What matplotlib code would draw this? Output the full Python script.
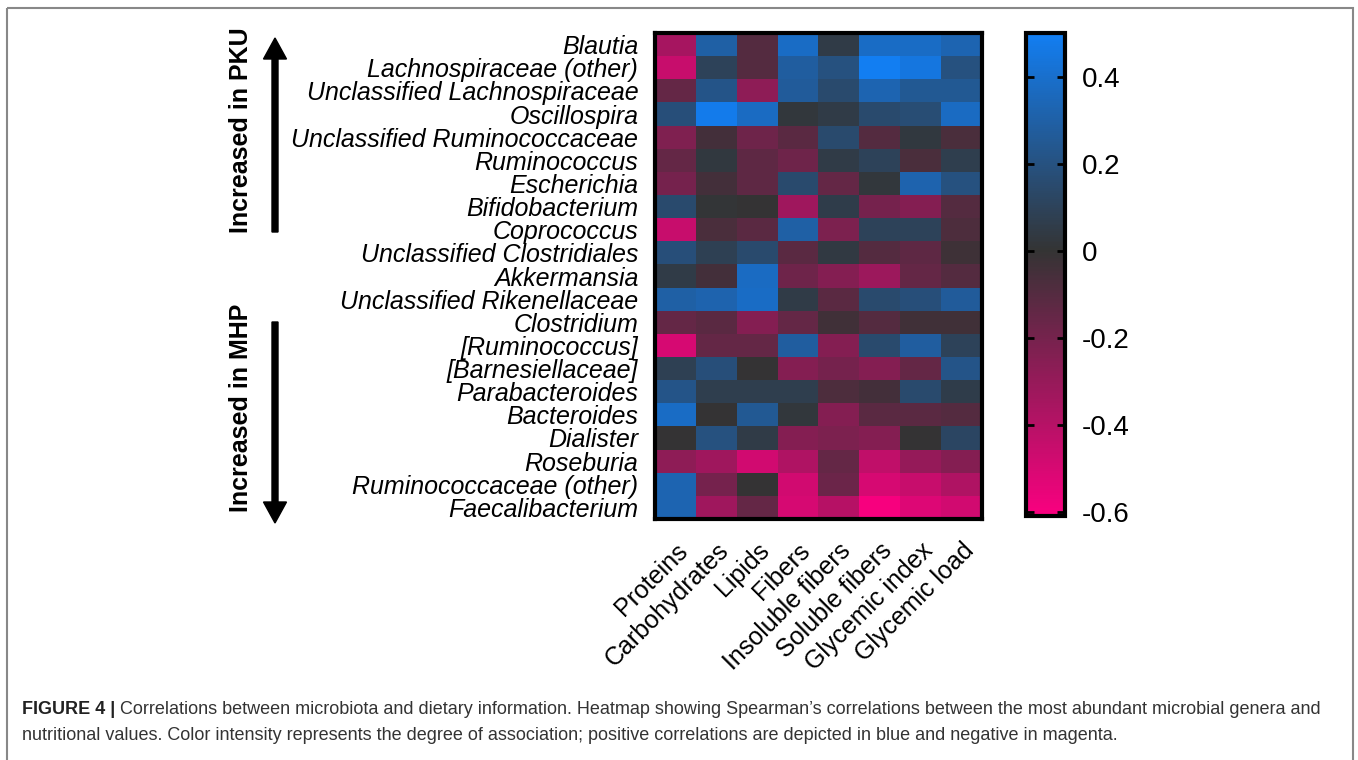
import matplotlib
matplotlib.use("Agg")
import matplotlib.pyplot as plt
import numpy as np
from matplotlib.colors import LinearSegmentedColormap
from matplotlib.patches import FancyArrow, Rectangle

genera = ["Blautia", "Lachnospiraceae (other)", "Unclassified Lachnospiraceae",
          "Oscillospira", "Unclassified Ruminococcaceae", "Ruminococcus",
          "Escherichia", "Bifidobacterium", "Coprococcus",
          "Unclassified Clostridiales", "Akkermansia", "Unclassified Rikenellaceae",
          "Clostridium", "[Ruminococcus]", "[Barnesiellaceae]", "Parabacteroides",
          "Bacteroides", "Dialister", "Roseburia", "Ruminococcaceae (other)",
          "Faecalibacterium"]
nutrients = ["Proteins", "Carbohydrates", "Lipids", "Fibers", "Insoluble fibers",
             "Soluble fibers", "Glycemic index", "Glycemic load"]

# Spearman rho, rows = genera, cols = nutrients
rho = np.array([
    [-0.35, 0.30, -0.10, 0.38, 0.05, 0.38, 0.38, 0.33],
    [-0.45, 0.10, -0.10, 0.28, 0.20, 0.50, 0.45, 0.20],
    [-0.15, 0.22, -0.28, 0.27, 0.15, 0.33, 0.25, 0.25],
    [0.18, 0.48, 0.37, 0.02, 0.05, 0.15, 0.17, 0.37],
    [-0.23, -0.05, -0.18, -0.12, 0.15, -0.10, 0.03, -0.07],
    [-0.15, 0.03, -0.13, -0.18, 0.05, 0.10, -0.07, 0.07],
    [-0.20, -0.05, -0.13, 0.15, -0.15, 0.02, 0.32, 0.20],
    [0.15, 0.01, 0.00, -0.33, 0.06, -0.20, -0.25, -0.10],
    [-0.45, -0.07, -0.12, 0.30, -0.22, 0.10, 0.10, -0.08],
    [0.18, 0.08, 0.15, -0.12, 0.04, -0.10, -0.13, -0.03],
    [0.05, -0.05, 0.37, -0.18, -0.25, -0.32, -0.15, -0.10],
    [0.30, 0.32, 0.38, 0.05, -0.12, 0.15, 0.18, 0.27],
    [-0.15, -0.12, -0.25, -0.15, -0.04, -0.10, -0.04, -0.04],
    [-0.50, -0.15, -0.15, 0.28, -0.25, 0.15, 0.28, 0.10],
    [0.08, 0.18, 0.00, -0.25, -0.20, -0.25, -0.15, 0.22],
    [0.22, 0.07, 0.07, 0.07, -0.08, -0.05, 0.15, 0.06],
    [0.38, 0.00, 0.25, 0.02, -0.25, -0.12, -0.12, -0.10],
    [0.00, 0.20, 0.05, -0.25, -0.22, -0.25, 0.00, 0.12],
    [-0.28, -0.33, -0.48, -0.38, -0.15, -0.43, -0.30, -0.25],
    [0.33, -0.20, 0.00, -0.48, -0.17, -0.50, -0.45, -0.38],
    [0.33, -0.33, -0.15, -0.50, -0.40, -0.60, -0.52, -0.48],
])
cbar_ticks = [-0.6, -0.4, -0.2, 0, 0.2, 0.4]
vmin, vmax = -0.61, 0.5

plt.rcParams['font.family'] = ['Liberation Sans', 'DejaVu Sans']

mid = (0 - vmin) / (vmax - vmin)
cmap = LinearSegmentedColormap.from_list(
    "pkbl", [(0.0, "#FA0080"), (mid, "#343434"), (1.0, "#127EF2")])

W, H = 1358, 760
fig = plt.figure(figsize=(W / 100, H / 100), dpi=100)

# overlay in pixel coordinates for frame, arrows and caption
ov = fig.add_axes([0, 0, 1, 1])
ov.set_xlim(0, W)
ov.set_ylim(H, 0)
ov.axis("off")

ax = fig.add_axes([655 / W, (H - 519) / H, 327 / W, 486 / H])
im = ax.imshow(rho, cmap=cmap, vmin=vmin, vmax=vmax, aspect="auto",
               interpolation="nearest")
ax.set_yticks(range(len(genera)))
ax.set_yticklabels(genera, fontsize=18, style="italic")
ax.set_xticks(range(len(nutrients)))
ax.set_xticklabels(nutrients, fontsize=18, rotation=45, ha="right",
                   rotation_mode="anchor")
ax.tick_params(length=0, pad=12)
ax.tick_params(axis="x", pad=14)
for s in ax.spines.values():
    s.set_linewidth(3)

cax = fig.add_axes([1026 / W, (H - 516) / H, 39 / W, 483 / H])
cb = fig.colorbar(im, cax=cax, ticks=cbar_ticks)
cb.ax.set_yticklabels(["-0.6", "-0.4", "-0.2", "0", "0.2", "0.4"])
cb.outline.set_linewidth(3)
cax.tick_params(axis="y", direction="in", left=True, right=True, length=6,
                width=2, labelsize=20, pad=12)

# side arrows and labels
ov.add_patch(FancyArrow(275, 232, 0, -194, width=6, head_width=23,
                        head_length=21, length_includes_head=True,
                        color="black"))
ov.add_patch(FancyArrow(275, 322, 0, 201, width=6, head_width=23,
                        head_length=21, length_includes_head=True,
                        color="black"))
ov.text(241, 130, "Increased in PKU", rotation=90, ha="center", va="center",
        fontsize=18, fontweight="bold")
ov.text(241, 408, "Increased in MHP", rotation=90, ha="center", va="center",
        fontsize=18, fontweight="bold")

# frame
ov.add_patch(Rectangle((7, 8), 1346, 800, fill=False, edgecolor="#888888",
                       linewidth=1.5))

# caption
cap_font = ['Liberation Sans', 'DejaVu Sans']
t1 = ov.text(22, 709, "FIGURE 4 |", fontsize=13, fontweight="bold",
             family=cap_font, va="center", color="#222222")
fig.canvas.draw()
bb = t1.get_window_extent()
ov.text(bb.x1 + 5, 709,
        "Correlations between microbiota and dietary information. Heatmap showing "
        "Spearman\u2019s correlations between the most abundant microbial genera and",
        fontsize=13, family=cap_font, va="center", color="#333333")
ov.text(22, 736,
        "nutritional values. Color intensity represents the degree of association; "
        "positive correlations are depicted in blue and negative in magenta.",
        fontsize=13, family=cap_font, va="center", color="#333333")

fig.savefig("out.png", dpi=100)
